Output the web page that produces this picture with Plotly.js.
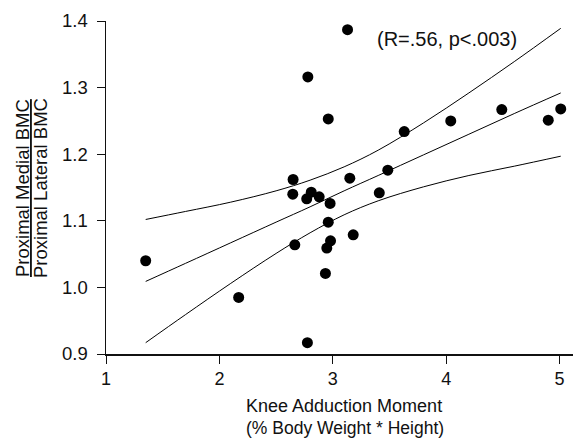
<!DOCTYPE html>
<html>
<head>
<meta charset="utf-8">
<script src="https://cdn.plot.ly/plotly-3.0.1.min.js"></script>
<style>html,body{margin:0;padding:0;background:#fff;}#chart{width:573px;height:439px;}</style>
</head>
<body>
<div id="chart"></div>
<script>
// Scatter points: knee adduction moment vs BMC ratio
const momentX = [1.35, 2.17, 2.65, 2.647, 2.665, 2.77, 2.776, 2.78, 2.81, 2.88, 2.935, 2.947, 2.96, 2.96, 2.976, 2.98, 3.13, 3.15, 3.18, 3.41, 3.485, 3.63, 4.04, 4.49, 4.90, 5.01];
const ratioY  = [1.040, 0.985, 1.162, 1.140, 1.064, 1.133, 0.917, 1.316, 1.143, 1.136, 1.021, 1.059, 1.098, 1.253, 1.126, 1.070, 1.387, 1.164, 1.079, 1.142, 1.176, 1.234, 1.250, 1.267, 1.251, 1.268];

// Regression line and 95% confidence band
const fitX   = [1.35, 1.7, 2.1, 2.5, 2.8, 3.1, 3.4, 3.8, 4.2, 4.6, 5.01];
const fitMid = [1.009, 1.036, 1.067, 1.098, 1.121, 1.145, 1.168, 1.199, 1.230, 1.261, 1.292];
const fitUp  = [1.102, 1.114, 1.128, 1.145, 1.161, 1.181, 1.206, 1.247, 1.292, 1.339, 1.389];
const fitLo  = [0.917, 0.959, 1.006, 1.051, 1.082, 1.109, 1.130, 1.151, 1.168, 1.182, 1.197];

const xTicks = [1, 2, 3, 4, 5];
const yTicks = [0.9, 1.0, 1.1, 1.2, 1.3, 1.4];
const yTickText = ['0.9', '1.0', '1.1', '1.2', '1.3', '1.4'];

const FONT = 'Liberation Sans, Arial, Helvetica, sans-serif';
const lineStyle = {color: '#000', width: 1, shape: 'spline'};

const traces = [
  {x: fitX, y: fitUp, mode: 'lines', line: lineStyle, hoverinfo: 'skip'},
  {x: fitX, y: fitMid, mode: 'lines', line: lineStyle, hoverinfo: 'skip'},
  {x: fitX, y: fitLo, mode: 'lines', line: lineStyle, hoverinfo: 'skip'},
  {x: momentX, y: ratioY, mode: 'markers', marker: {color: '#000', size: 11}}
];

const L = 106, T = 21, W = 573, H = 439, B = 85;
const pw = W - L, ph = H - T - B;
const px = p => (p - L) / pw;
const py = p => (H - B - p) / ph;

const layout = {
  width: W, height: H,
  margin: {l: L, r: 0, t: T, b: B, pad: 0},
  paper_bgcolor: '#fff', plot_bgcolor: '#fff',
  showlegend: false,
  font: {family: FONT, size: 18, color: '#111'},
  xaxis: {
    range: [1, 1 + pw / 113.4], tickvals: xTicks, ticktext: xTicks.map(String),
    showgrid: false, zeroline: false, showline: true, linecolor: '#111', linewidth: 1.5,
    ticks: 'outside', ticklen: 8, tickcolor: '#111', tickwidth: 1,
    tickfont: {family: FONT, size: 18, color: '#111'}
  },
  yaxis: {
    range: [0.9, 1.4], tickvals: yTicks, ticktext: yTickText,
    showgrid: false, zeroline: false, showline: true, linecolor: '#111', linewidth: 1.5,
    ticks: 'outside', ticklen: 8, tickcolor: '#111', tickwidth: 1, ticklabelstandoff: 5,
    tickfont: {family: FONT, size: 18.5, color: '#111'}
  },
  annotations: [
    {text: '(R=.56, p<.003)', xref: 'paper', yref: 'paper', x: px(447), y: py(39),
     xanchor: 'center', yanchor: 'middle', showarrow: false, font: {family: FONT, size: 20, color: '#111'}},
    {text: 'Knee Adduction Moment', xref: 'paper', yref: 'paper', x: px(344), y: py(406),
     xanchor: 'center', yanchor: 'middle', showarrow: false, borderpad: 0, font: {family: FONT, size: 18, color: '#111'}},
    {text: '(% Body Weight * Height)', xref: 'paper', yref: 'paper', x: px(345), y: py(428),
     xanchor: 'center', yanchor: 'middle', showarrow: false, borderpad: 0, font: {family: FONT, size: 17.5, color: '#111'}},
    {text: '<u>Proximal Medial BMC</u>', xref: 'paper', yref: 'paper', x: px(22), y: py(188),
     xanchor: 'center', yanchor: 'middle', textangle: -90, showarrow: false, font: {family: FONT, size: 18.5, color: '#111'}},
    {text: 'Proximal Lateral BMC', xref: 'paper', yref: 'paper', x: px(40), y: py(188),
     xanchor: 'center', yanchor: 'middle', textangle: -90, showarrow: false, font: {family: FONT, size: 18.5, color: '#111'}}
  ]
};

Plotly.newPlot('chart', traces, layout, {displayModeBar: false, staticPlot: true});
</script>
</body>
</html>
